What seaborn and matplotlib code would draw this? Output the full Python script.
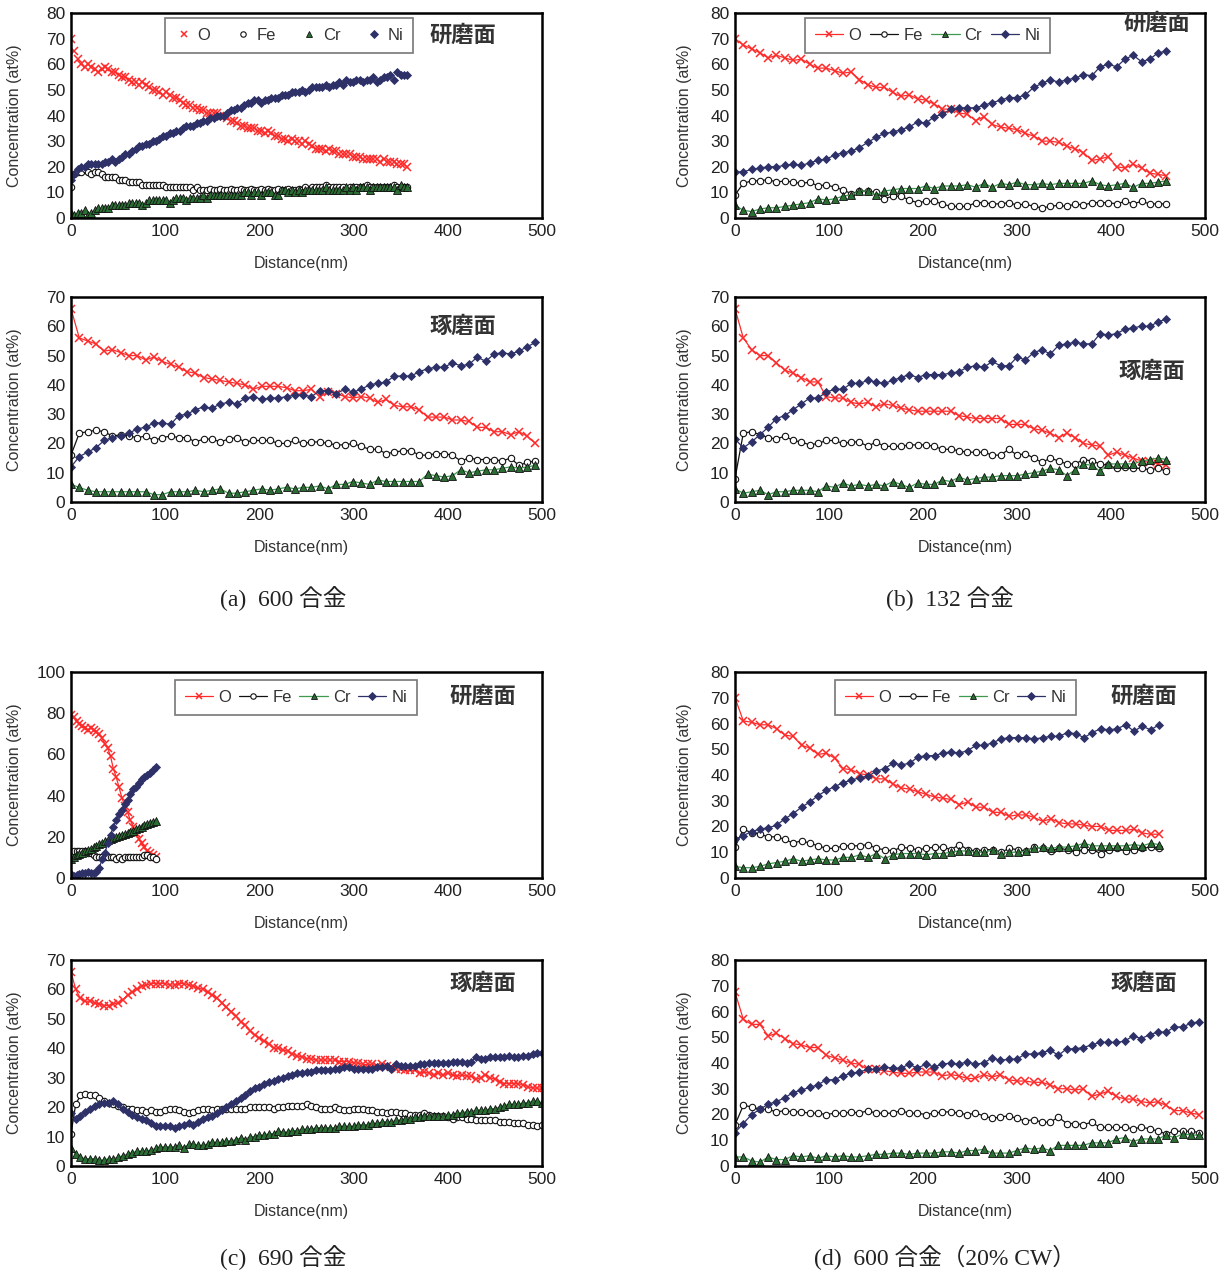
import numpy as np
import matplotlib
matplotlib.use('Agg')
import matplotlib.pyplot as plt
import seaborn as sns

sns.set_style('white')
plt.rcParams['font.family'] = ['Liberation Sans', 'Noto Sans CJK JP']

elements = ['O', 'Fe', 'Cr', 'Ni']

# ---------------- (a) 600 alloy, polished (研磨面) ----------------
a1_end = 357
a1_O = [70, 65, 62, 60, 59, 60, 59, 58, 57, 58,
        59, 58, 57, 57, 56, 55, 55, 54, 53, 53,
        52, 53, 52, 51, 50, 50, 49, 48, 49, 48,
        47, 47, 46, 45, 44, 44, 43, 43, 42, 42,
        41, 41, 41, 41, 40, 40, 39, 38, 38, 37,
        36, 36, 35, 35, 35, 34, 34, 33, 34, 33,
        32, 32, 31, 31, 30, 31, 30, 30, 29, 30,
        29, 28, 27, 27, 27, 26, 27, 26, 26, 25,
        25, 25, 25, 24, 24, 24, 23, 23, 23, 23,
        23, 22, 23, 22, 22, 22, 21, 21, 21, 20]
a1_Fe = [12, 17, 18, 18, 19, 18, 17, 18, 18, 17,
         16, 16, 16, 16, 15, 15, 15, 14, 14, 14,
         14, 13, 13, 13, 13, 13, 13, 13, 12, 12,
         12, 12, 12, 12, 12, 12, 11, 12, 11, 11,
         11, 11.5, 11, 11, 11.5, 11, 11, 11.5, 11, 11,
         11.5, 11, 11, 11.5, 11, 11, 11.5, 11, 11.5, 11,
         11, 11.5, 11, 11, 11.5, 11, 11, 11.5, 11, 12,
         11, 12, 12, 12, 12, 13, 12, 12, 12, 12,
         12, 11, 12, 12, 12, 12, 12, 13, 12, 12,
         12, 12, 12, 12, 12, 13, 12, 12, 12, 12]
a1_Cr = [2, 1, 2, 2, 3, 1, 2, 3, 4, 4,
         4, 4, 5, 5, 5, 5, 5, 6, 6, 6,
         6, 5, 6, 7, 7, 7, 7, 7, 7, 6,
         7, 8, 8, 8, 7, 8, 8, 8, 8, 9,
         8, 9, 9, 9, 9, 9, 9, 9, 9, 9,
         9, 10, 10, 9, 10, 10, 9, 10, 10, 10,
         9, 9, 11, 11, 10, 11, 10, 11, 10, 11,
         11, 11, 11, 11, 11, 12, 11, 11, 11, 11,
         11, 12, 11, 12, 11, 12, 12, 12, 11, 12,
         12, 12, 12, 12, 12, 12, 11, 13, 12, 12]
a1_Ni = [15, 17, 19, 20, 20, 21, 21, 21, 21, 21,
         22, 22, 23, 22, 23, 24, 25, 25, 26, 27,
         28, 28, 29, 29, 30, 30, 31, 32, 32, 33,
         33, 34, 34, 35, 36, 36, 36, 37, 37, 38,
         38, 39, 39, 40, 40, 40, 41, 42, 42, 43,
         43, 44, 45, 45, 46, 46, 45, 46, 46, 47,
         47, 47, 48, 48, 48, 49, 49, 49, 50, 49,
         50, 51, 51, 51, 51, 52, 51, 52, 52, 53,
         52, 54, 53, 53, 54, 54, 53, 54, 54, 55,
         53, 54, 55, 55, 56, 54, 57, 56, 56, 56]

# ---------------- (a) 600 alloy, buffed (琢磨面) ----------------
a2_end = 493
a2_O = [66, 56, 55, 54, 51.5, 52, 51, 50, 50, 48.5,
        49.5, 48, 47, 46, 44.5, 44, 42.5, 42, 41.5, 41,
        40.5, 40, 38.5, 39.5, 39.5, 39.5, 39, 38, 38, 38.5,
        36, 37.5, 37, 36, 35.5, 36, 35.5, 34, 35, 33,
        32.5, 32.5, 31.5, 29, 29, 29, 28, 28, 27.5, 25.5,
        25.5, 24, 24, 23, 24, 22.5, 20]
a2_Fe = [16, 23.5, 24, 24.5, 24, 22.5, 23, 22.5, 22, 22.5,
         21, 22, 22.5, 22, 22, 20.5, 21.5, 21.5, 20.5, 21.5,
         22, 20.5, 21, 21, 21, 20, 20, 21, 20, 20.5,
         20.5, 20, 19.5, 19.5, 20, 19, 18, 18, 16.5, 17,
         17.5, 17.5, 16, 16, 16.5, 16.5, 16, 14, 15, 14.5,
         14.5, 14.5, 14, 15, 12.5, 13.5, 14]
a2_Cr = [6, 5, 4, 3.5, 3.5, 3.5, 3.5, 3.5, 3.5, 3.5,
         2.5, 2.5, 3.5, 3.5, 3.5, 4, 3.5, 4, 4.5, 3,
         3, 3.5, 4, 4.5, 4, 4.5, 5, 4.5, 5, 5,
         5.5, 4.5, 6, 6, 7, 6.5, 6, 7.5, 7, 7,
         7, 7, 7, 9.5, 9, 8.5, 9, 11, 10, 10.5,
         11, 11, 11.5, 12, 11.5, 12, 12.5]
a2_Ni = [12, 15.5, 17, 18.5, 21, 22, 22.5, 23.5, 25, 25.5,
         27, 27, 26.5, 29.5, 30, 31.5, 32.5, 32, 33.5, 34,
         33.5, 35.5, 36, 35, 35.5, 35.5, 36, 36.5, 36.5, 36,
         38, 38, 37, 38.5, 37.5, 38.5, 40, 40.5, 41, 43,
         43, 43, 44.5, 45.5, 46, 46, 47.5, 46.5, 47, 49.5,
         48, 50.5, 51, 50.5, 51.5, 53, 54.5]

# ---------------- (b) 132 alloy, polished ----------------
b1_end = 459
b1_O = [70, 67.5, 66, 64.5, 62.5, 63.5, 62.5, 61.5, 62, 60,
        58.5, 58.5, 57.5, 56.5, 57, 54, 52, 51, 51, 49,
        47.5, 48, 46.5, 46, 44.5, 42.5, 42.5, 41, 40.5, 38,
        39.5, 36.5, 35.5, 35, 34.5, 33, 32, 30, 30, 29.5,
        28, 27, 25.5, 22.5, 23, 24, 20, 19.5, 21, 19.5,
        17.5, 17, 16.5]
b1_Fe = [9, 13.5, 14.5, 14.5, 15, 14, 14.5, 14, 13.5, 14,
         12.5, 13, 12, 11, 9.5, 10.5, 10.5, 10, 7.5, 8.5,
         8.5, 7, 6, 6.5, 6.5, 5.5, 4.5, 4.5, 4.5, 6,
         6, 5.5, 5.5, 6, 5, 5.5, 4.5, 4, 4.5, 5,
         4.5, 5.5, 5, 6, 6, 6, 5.5, 6.5, 5.5, 6.5,
         5.5, 5.5, 5.5]
b1_Cr = [5, 3, 2.5, 3.5, 4, 4, 4.5, 5, 5.5, 6,
         7.5, 7, 7.5, 8.5, 9, 10.5, 10.5, 9, 10.5, 11,
         11.5, 11.5, 11.5, 12.5, 11.5, 12.5, 12.5, 12.5, 13, 12,
         13.5, 12, 13.5, 13, 14, 13, 13, 13.5, 13, 13.5,
         13.5, 13.5, 13.5, 14.5, 13, 12.5, 13, 13.5, 12, 13.5,
         13.5, 14, 14.5]
b1_Ni = [18, 18, 19, 19.5, 20, 20, 20.5, 21, 20.5, 21.5,
         22.5, 23, 24.5, 25.5, 26, 27.5, 29.5, 31.5, 33, 33.5,
         34.5, 35.5, 37.5, 37, 39.5, 40.5, 42.5, 43, 43, 43,
         44, 45, 46, 47, 47, 48, 51, 52.5, 54, 53,
         54, 54.5, 56, 55.5, 59, 60, 59, 62, 63.5, 61,
         62, 64.5, 65]

# ---------------- (b) 132 alloy, buffed ----------------
b2_end = 459
b2_O = [66, 56, 52, 50, 50, 47.5, 45, 44, 42.5, 41,
        41, 36, 35.5, 35.5, 34, 33.5, 34, 32.5, 33.5, 33,
        32, 31.5, 31, 31, 31, 31, 31, 29.5, 29, 28.5,
        28.5, 28.5, 28.5, 26.5, 26.5, 26.5, 25, 24.5, 23.5, 22,
        23.5, 22, 20, 19.5, 19, 16, 17, 16, 15, 14,
        13.5, 13, 12.5]
b2_Fe = [8, 23.5, 24, 23, 22, 21.5, 22.5, 21, 20.5, 19.5,
         20, 21, 21, 20, 20.5, 20.5, 19, 20.5, 19, 19,
         19, 19.5, 19.5, 19.5, 19, 18, 18, 17.5, 17, 17,
         17, 16, 16, 18, 16, 16.5, 15, 13.5, 15, 14,
         13, 13, 14.5, 14, 13, 12.5, 11.5, 12, 11.5, 11.5,
         11, 11.5, 10.5]
b2_Cr = [4.5, 3, 3.5, 4, 2.5, 3.5, 3.5, 4, 4, 4,
         3.5, 5.5, 5, 6.5, 5.5, 6, 5.5, 6, 5.5, 7,
         6, 5, 6.5, 6, 6, 7.5, 7, 8.5, 7.5, 8,
         8.5, 8.5, 9, 9, 9, 9.5, 10, 10.5, 11.5, 11,
         9, 11, 13, 12.5, 10.5, 13, 13, 13, 13, 14,
         14.5, 15, 14.5]
b2_Ni = [21.5, 18.5, 20.5, 23, 25.5, 28.5, 29.5, 31.5, 33.5, 35.5,
         35.5, 37.5, 38.5, 38.5, 40.5, 40.5, 41.5, 41, 40.5, 41.5,
         42.5, 43.5, 42.5, 43.5, 43.5, 43.5, 44, 44.5, 46, 46.5,
         46, 48, 46.5, 46.5, 49.5, 48.5, 51, 52, 50.5, 53.5,
         54, 54.5, 54, 54, 57.5, 57, 57.5, 59, 59.5, 60,
         60, 61.5, 62.5]

# ---------------- (c) 690 alloy, polished ----------------
c1_end = 90
c1_O = [79, 78, 76, 75, 74, 73, 72, 73, 72, 71,
        70, 68, 65, 63, 59, 53, 49, 44, 39, 35,
        32, 28, 25, 22, 19, 17, 15, 13, 12, 11, 10]
c1_Fe = [11, 13, 13, 13, 13, 13, 12, 12, 11, 10,
         10, 10, 10, 10, 10, 10, 9, 10, 9, 10,
         10, 10, 10, 10, 10, 10, 11, 11, 10, 10, 9]
c1_Cr = [9, 10, 11, 11.5, 12, 13, 13.5, 14, 15, 15.5,
         16.5, 17, 18, 18.5, 19, 19.5, 20, 20.5, 21, 21.5,
         22, 22.5, 23, 24, 24.5, 25, 25.5, 26, 26.5, 27, 27.5]
c1_Ni = [2, 1, 1.5, 2, 2.5, 2.5, 3, 2.5, 2.5, 3,
         5, 9, 12, 17, 21, 25, 28, 31, 33, 36,
         38, 41, 43, 44, 46, 48, 49, 50, 51, 52.5, 54]

# ---------------- (c) 690 alloy, buffed ----------------
c2_end = 500
c2_O = [66, 60, 57, 56, 56, 55.5, 55, 54.5, 54.5, 55,
        55.5, 56.5, 58, 59, 60, 61, 61.5, 62, 62, 62,
        62, 61.5, 61.5, 62, 62, 61.5, 61, 60.5, 60, 59,
        58, 57, 55.5, 54, 52.5, 51, 49, 48, 46, 44.5,
        43.5, 42.5, 41.5, 40, 40, 39.5, 39, 38, 37.5, 37,
        36.5, 36.5, 36, 36, 36, 36, 36, 35.5, 35.5, 35.5,
        35, 35, 34.5, 34.5, 34.5, 34, 34.5, 34, 33.5, 33,
        33, 32.5, 32.5, 32.5, 31.5, 32, 31.5, 31, 31.5, 31,
        31.5, 31, 30.5, 31, 30.5, 30.5, 29.5, 30, 31, 30,
        29.5, 28.5, 28, 28, 28, 28, 27.5, 27, 26.5, 26.5,
        26.5]
c2_Fe = [11, 21, 24, 24.5, 24, 24, 23, 22, 21.5, 21,
         20.5, 20, 19.5, 19.5, 19, 19, 18.5, 19, 18.5, 18.5,
         19, 19.5, 19.5, 19, 18.5, 18, 18.5, 19, 19.5, 19.5,
         19, 19.5, 19.5, 19.5, 19.5, 19.5, 19.5, 19.5, 20, 20,
         20, 20, 20, 19.5, 20, 20, 20.5, 20.5, 20.5, 20.5,
         21, 20.5, 20, 19.5, 19.5, 19.5, 20, 19.5, 19, 19,
         19.5, 19.5, 19.5, 19, 19, 18.5, 18.5, 18, 18.5, 18.5,
         18, 18, 17.5, 17.5, 17.5, 18, 17.5, 17, 17, 17,
         16.5, 16, 16.5, 16.5, 16, 16, 15.5, 15.5, 15.5, 15.5,
         15.5, 15, 15, 15, 14.5, 14.5, 14.5, 14, 14, 13.5,
         14]
c2_Cr = [6, 4, 3, 2.5, 2.5, 2.5, 2, 2, 2.5, 2.5,
         3, 3.5, 4, 4.5, 5, 5, 5, 5.5, 6, 6.5,
         6.5, 6.5, 6.5, 7, 6, 7.5, 7.5, 7, 7, 7.5,
         8, 8, 8, 8.5, 8.5, 9, 9.5, 9, 10, 10,
         10.5, 10.5, 11, 11, 12, 11.5, 11.5, 12, 12, 12.5,
         12.5, 12.5, 13, 13, 13, 13, 13, 13.5, 13.5, 13.5,
         13.5, 14, 14, 14, 14.5, 14.5, 15, 15, 15, 15.5,
         15.5, 16, 16, 16.5, 16.5, 17, 17, 17, 17, 17,
         17.5, 17.5, 18, 18, 18.5, 18.5, 19, 19, 19, 19.5,
         19.5, 20, 20.5, 21, 21, 21, 21.5, 21.5, 22, 22,
         21.5]
c2_Ni = [18, 16, 17, 18.5, 19.5, 20.5, 21, 21.5, 21.5, 22,
         21, 19.5, 18.5, 17.5, 16.5, 16, 15.5, 14.5, 13.5, 13.5,
         13.5, 13.5, 13, 13.5, 14, 14.5, 14, 15, 16, 16.5,
         17, 18, 19, 20, 21, 22, 23, 24, 25.5, 26.5,
         27, 28, 28.5, 29, 29.5, 30, 30.5, 31, 31.5, 31.5,
         32, 32, 32.5, 32.5, 32.5, 32.5, 33, 33, 33.5, 33.5,
         33, 33, 33, 33, 33, 33.5, 33.5, 34, 33, 34.5,
         34, 34, 34, 34, 34.5, 34.5, 35, 35, 35, 35,
         35, 35.5, 35.5, 35.5, 35, 35.5, 37, 36.5, 36.5, 37,
         37, 37, 37, 37.5, 37, 37, 37.5, 37.5, 38, 38.5,
         38.5]

# ---------------- (d) 600 alloy (20% CW), polished ----------------
d1_end = 451
d1_O = [70, 61, 60.5, 59.5, 59.5, 58, 55.5, 55, 51.5, 50.5,
        48, 48.5, 46.5, 42.5, 42, 40.5, 40, 38.5, 38.5, 36.5,
        35, 34.5, 33.5, 32.5, 31.5, 31, 30.5, 28.5, 29.5, 27.5,
        27.5, 25.5, 25.5, 24, 24.5, 24.5, 23.5, 22, 23, 21.5,
        21, 21, 20.5, 20, 20, 18.5, 18.5, 18.5, 19, 17.5,
        17, 17]
d1_Fe = [12, 19, 17.5, 17, 16, 16, 15, 13.5, 14.5, 13.5,
         12.5, 11.5, 11.5, 12.5, 12.5, 12.5, 13, 11.5, 11, 10.5,
         12, 11.5, 11, 11.5, 12, 12, 11, 13, 11, 10.5,
         11, 11, 10, 11.5, 11, 10.5, 12, 11.5, 10.5, 11.5,
         11, 10, 11, 11, 9.5, 11, 11.5, 10.5, 11, 11.5,
         12, 11.5]
d1_Cr = [4.5, 4, 4, 4.5, 5.5, 6, 6.5, 7.5, 6.5, 7,
         7.5, 7, 7, 8, 8, 9, 8, 9.5, 7.5, 9,
         9.5, 9.5, 9.5, 9, 9.5, 9.5, 10, 10.5, 10.5, 10,
         10, 11, 9.5, 10, 10, 10.5, 11.5, 12, 11.5, 12,
         12, 12.5, 13.5, 12.5, 12.5, 12.5, 12.5, 12.5, 13, 12.5,
         13.5, 13]
d1_Ni = [15, 16.5, 18, 19, 19.5, 20.5, 23, 25, 27.5, 29.5,
         32, 34, 35.5, 37, 38, 39, 39.5, 41.5, 42.5, 44.5,
         44, 44.5, 47, 47.5, 47.5, 48.5, 49, 48.5, 49.5, 51.5,
         51.5, 52.5, 54, 54.5, 54.5, 54.5, 54, 54.5, 55, 55,
         56.5, 56, 54.5, 56.5, 58, 57.5, 58, 59.5, 57, 59,
         57.5, 59.5]

# ---------------- (d) 600 alloy (20% CW), buffed ----------------
d2_end = 494
d2_O = [67.5, 57, 55, 55, 50.5, 51.5, 49.5, 47.5, 47, 46,
        46, 43, 42, 41, 40, 39.5, 37.5, 37.5, 37, 36.5,
        36, 36, 36.5, 36.5, 36.5, 35, 35.5, 35, 34, 34,
        35.5, 34.5, 35.5, 33.5, 33, 33, 32.5, 32.5, 31.5, 30,
        30, 29.5, 30, 27, 28, 29, 27, 26, 26, 25,
        24.5, 25, 23.5, 21.5, 21.5, 20.5, 20]
d2_Fe = [16, 23.5, 23, 22, 22, 21, 21.5, 21, 21, 20.5,
         20.5, 20, 20.5, 20.5, 21, 20.5, 21.5, 20.5, 20.5, 20.5,
         21.5, 20.5, 20.5, 20, 20.5, 21, 21, 20.5, 20, 20.5,
         19.5, 18.5, 19, 19.5, 18.5, 17.5, 18, 17, 17, 19,
         16.5, 16.5, 16, 17, 15, 15, 15, 15, 14.5, 15,
         14.5, 13.5, 12.5, 13.5, 13.5, 13.5, 13]
d2_Cr = [3.5, 3.5, 2, 1.5, 3.5, 2.5, 2.5, 4, 3.5, 4,
         3, 4, 3.5, 4, 3.5, 3.5, 4, 4.5, 4.5, 5,
         5, 4.5, 5, 5, 5, 5.5, 5.5, 5, 6, 6,
         6.5, 5, 5, 5, 6, 7, 6.5, 7, 6, 8,
         8, 8, 8, 9, 9, 9, 10.5, 11, 9.5, 10.5,
         10.5, 10.5, 12, 11, 12.5, 12, 12]
d2_Ni = [13, 16.5, 20, 22, 24, 25, 26.5, 28.5, 29.5, 30.5,
         31.5, 33.5, 33.5, 35, 36, 36.5, 37.5, 37.5, 38.5, 38,
         38, 39.5, 38, 39.5, 38.5, 39.5, 40, 39.5, 40.5, 39.5,
         40, 42, 41, 41.5, 41.5, 43.5, 43.5, 44, 45, 43,
         45.5, 45.5, 46, 47, 48, 48, 48, 48.5, 50.5, 49.5,
         51, 52, 52, 54, 54, 55.5, 56]

# ---------------- styling ----------------
line_colors = {'O': '#ff2a2a', 'Fe': '#111111', 'Cr': '#3f9a4f', 'Ni': '#2e3168'}
marker_kw = {
    'O': dict(marker='x', markersize=5.5, markerfacecolor='#ff2a2a', markeredgecolor='#ff2a2a', markeredgewidth=1.1),
    'Fe': dict(marker='o', markersize=4.6, markerfacecolor='white', markeredgecolor='#111111', markeredgewidth=0.8),
    'Cr': dict(marker='^', markersize=5.2, markerfacecolor='#2b6e34', markeredgecolor='#111111', markeredgewidth=0.6),
    'Ni': dict(marker='D', markersize=4.3, markerfacecolor='#2e3168', markeredgecolor='#2e3168', markeredgewidth=0.6),
}

fig = plt.figure(figsize=(12.26, 12.72), dpi=100)

W, H = 1226.0, 1272.0


def make_axes(x0, x1, ytop, ybot):
    return fig.add_axes([x0 / W, 1 - ybot / H, (x1 - x0) / W, (ybot - ytop) / H])


def draw_panel(ax, end, series, ymax, ystep, tag, tag_xy, lines=True, legend_box=None):
    for name, vals in zip(elements, series):
        x = np.linspace(0, end, len(vals))
        sns.lineplot(x=x, y=vals, ax=ax, color=line_colors[name],
                     linewidth=0.9 if lines else 0, linestyle='-' if lines else 'none',
                     label=name, legend=False, estimator=None, sort=False,
                     **marker_kw[name])
    ax.set_xlim(0, 500)
    ax.set_ylim(0, ymax)
    ax.set_xticks(np.arange(0, 501, 100))
    ax.set_yticks(np.arange(0, ymax + 1, ystep))
    ax.tick_params(direction='in', length=5, width=1, labelsize=12.5,
                   labelcolor='#222222', pad=4)
    for s in ax.spines.values():
        s.set_linewidth(1.8)
        s.set_color('black')
    ax.set_xlabel('Distance(nm)', fontsize=11.5, color='#333333')
    ax.set_ylabel('Concentration (at%)', fontsize=11.5, color='#333333')
    ax.xaxis.set_label_coords(0.49, -0.185)
    ax.text(tag_xy[0], tag_xy[1], tag, transform=ax.transAxes, ha='center', va='center',
            fontsize=16, fontweight='bold', color='#333333', family='Noto Sans CJK JP')
    if legend_box is not None:
        leg = ax.legend(loc='upper left', bbox_to_anchor=legend_box, mode='expand', ncol=4,
                        fontsize=12, frameon=True, fancybox=False, markerscale=0.85,
                        handlelength=1.0 if not lines else 1.7, handletextpad=0.3,
                        columnspacing=0.6, borderpad=0.6, borderaxespad=0)
        leg.get_frame().set_edgecolor('#555555')
        leg.get_frame().set_linewidth(1.2)
        for t in leg.get_texts():
            t.set_color('#333333')


left = (71, 542)
right = (735, 1205)

ax = make_axes(left[0], left[1], 13, 218)
draw_panel(ax, a1_end, [a1_O, a1_Fe, a1_Cr, a1_Ni], 80, 10, '研磨面', (0.832, 0.893),
           lines=False, legend_box=(0.20, 0.805, 0.526, 0.171))
ax.yaxis.set_label_coords(-0.105, 0.5)

ax = make_axes(right[0], right[1], 13, 218)
draw_panel(ax, b1_end, [b1_O, b1_Fe, b1_Cr, b1_Ni], 80, 10, '研磨面', (0.898, 0.95),
           legend_box=(0.149, 0.81, 0.521, 0.166))
ax.yaxis.set_label_coords(-0.092, 0.5)

ax = make_axes(left[0], left[1], 297, 502)
draw_panel(ax, a2_end, [a2_O, a2_Fe, a2_Cr, a2_Ni], 70, 10, '琢磨面', (0.832, 0.854))
ax.yaxis.set_label_coords(-0.105, 0.5)

ax = make_axes(right[0], right[1], 297, 502)
draw_panel(ax, b2_end, [b2_O, b2_Fe, b2_Cr, b2_Ni], 70, 10, '琢磨面', (0.887, 0.639))
ax.yaxis.set_label_coords(-0.092, 0.5)

ax = make_axes(left[0], left[1], 672, 878)
draw_panel(ax, c1_end, [c1_O, c1_Fe, c1_Cr, c1_Ni], 100, 20, '研磨面', (0.875, 0.883),
           legend_box=(0.221, 0.806, 0.514, 0.155))
ax.yaxis.set_label_coords(-0.105, 0.5)

ax = make_axes(right[0], right[1], 672, 878)
draw_panel(ax, d1_end, [d1_O, d1_Fe, d1_Cr, d1_Ni], 80, 10, '研磨面', (0.870, 0.883),
           legend_box=(0.213, 0.806, 0.513, 0.155))
ax.yaxis.set_label_coords(-0.092, 0.5)

ax = make_axes(left[0], left[1], 960, 1166)
draw_panel(ax, c2_end, [c2_O, c2_Fe, c2_Cr, c2_Ni], 70, 10, '琢磨面', (0.875, 0.888))
ax.yaxis.set_label_coords(-0.105, 0.5)

ax = make_axes(right[0], right[1], 960, 1166)
draw_panel(ax, d2_end, [d2_O, d2_Fe, d2_Cr, d2_Ni], 80, 10, '琢磨面', (0.870, 0.888))
ax.yaxis.set_label_coords(-0.092, 0.5)

cap_font = ['Liberation Serif', 'Noto Sans CJK JP']
cap_kw = dict(ha='center', va='center', fontsize=17, family=cap_font, color='#222222')
fig.text(283 / W, 1 - 598 / H, '(a)  600 合金', **cap_kw)
fig.text(950 / W, 1 - 598 / H, '(b)  132 合金', **cap_kw)
fig.text(283 / W, 1 - 1257 / H, '(c)  690 合金', **cap_kw)
fig.text(945 / W, 1 - 1257 / H, '(d)  600 合金（20% CW）', **cap_kw)

fig.savefig('out.png', dpi=100, facecolor='white')
